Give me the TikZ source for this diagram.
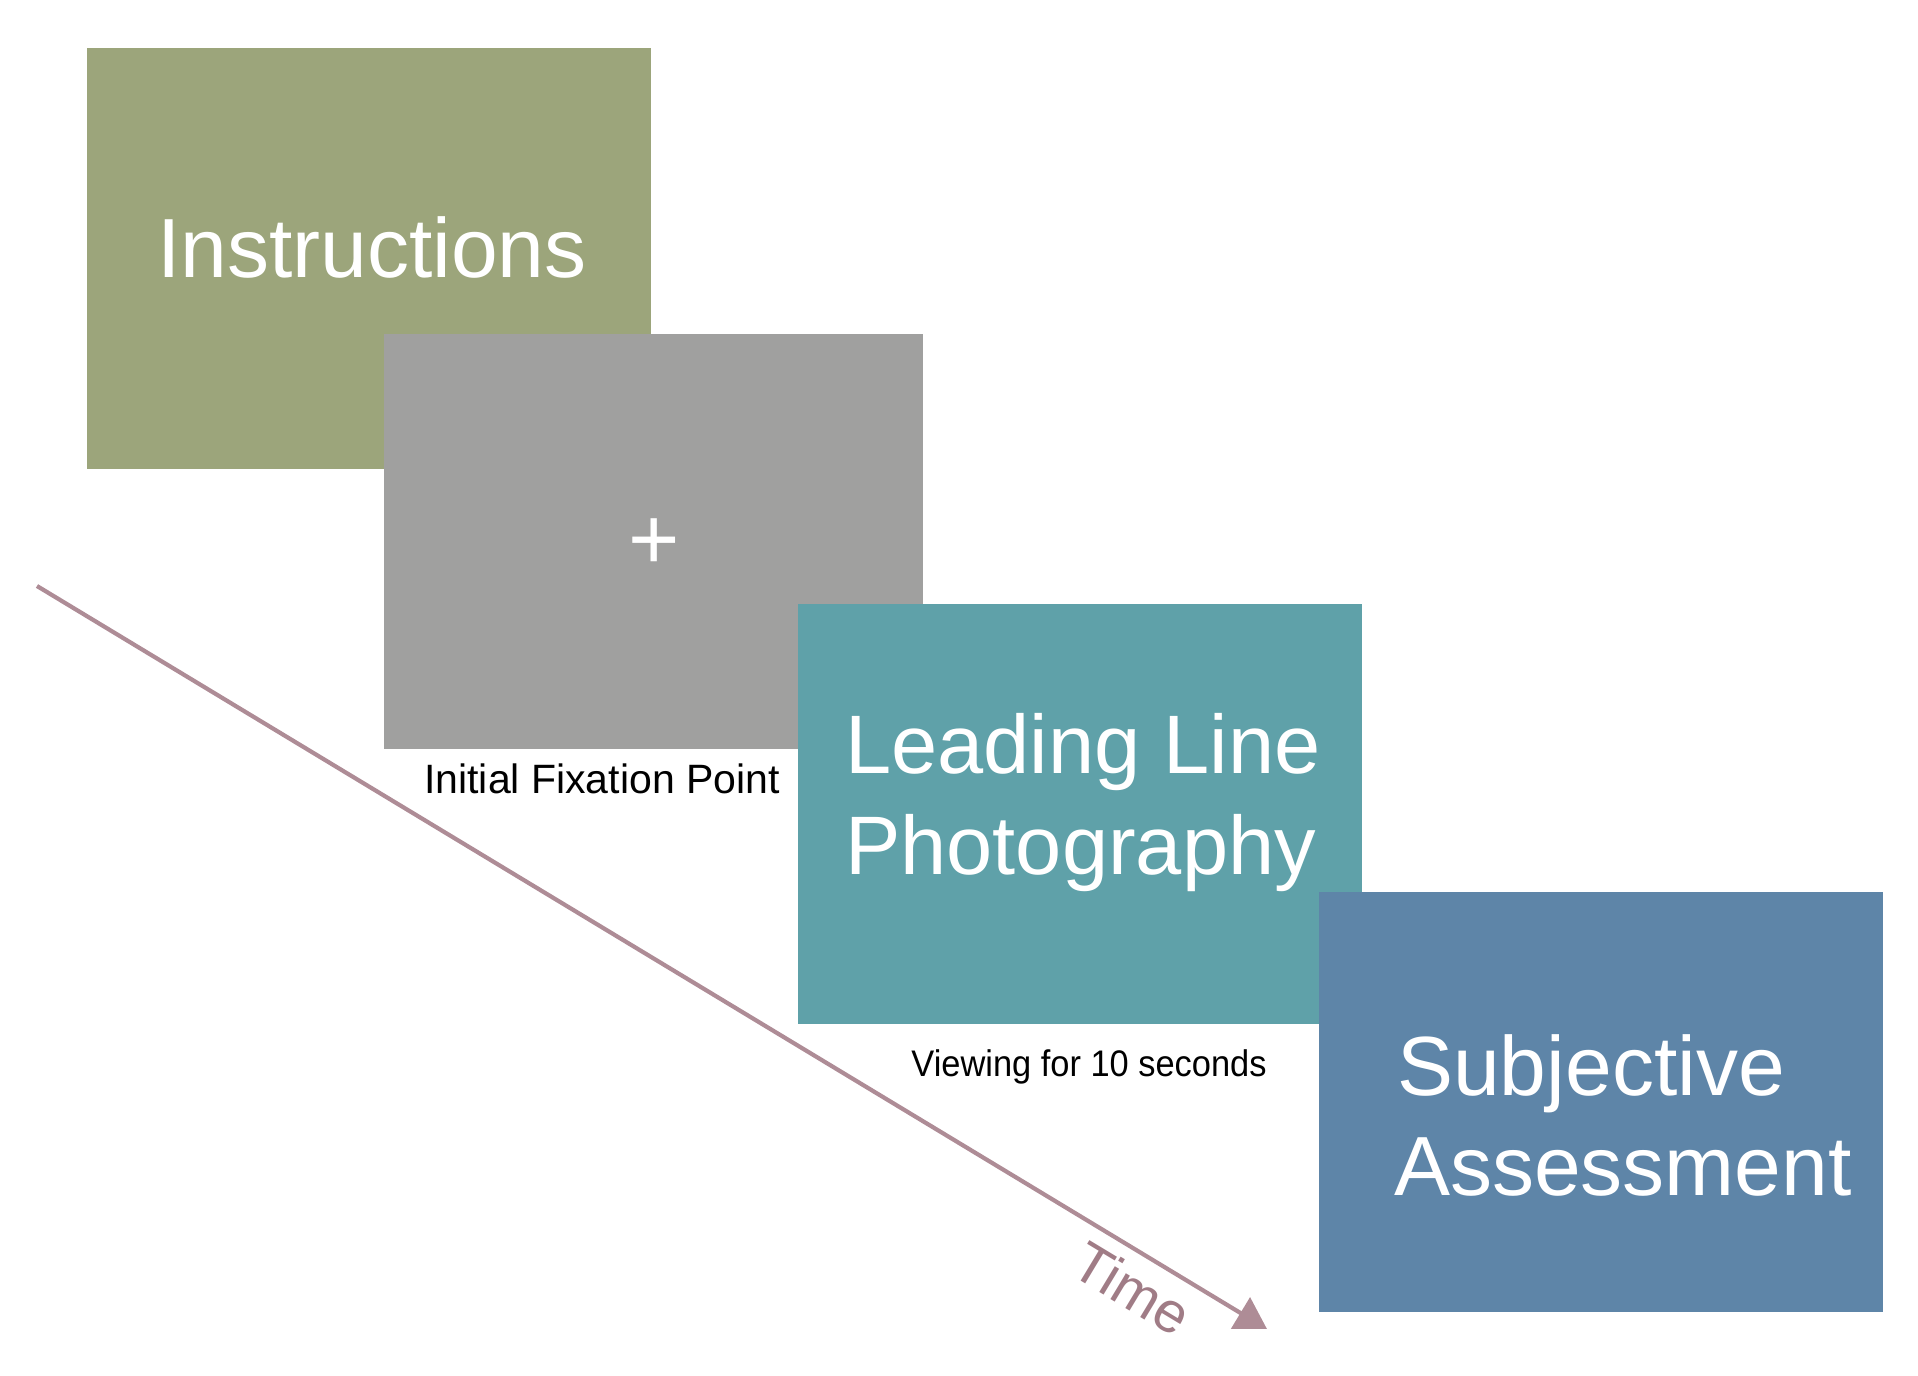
\documentclass[tikz,border=0pt]{standalone}
\usepackage{fontspec}
\setmainfont{Liberation Sans}
\usetikzlibrary{arrows.meta}
\definecolor{cgreen}{HTML}{9CA57B}
\definecolor{cgray}{HTML}{A0A09F}
\definecolor{cteal}{HTML}{5FA1A9}
\definecolor{cblue}{HTML}{5E85A8}
\definecolor{cline}{HTML}{AE8C96}
\definecolor{ctime}{HTML}{A07C86}
\tikzset{
  panel/.style={draw=none, inner sep=0pt, outer sep=0pt},
  bigtext/.style={text=white, inner sep=0pt, anchor=base west, font=\fontsize{84}{101}\selectfont},
  smalltext/.style={text=black, inner sep=0pt, anchor=base},
  timeline/.style={line width=4.2pt, draw=cline, -{Triangle[length=31pt,width=36pt]}},
}
\begin{document}
\begin{tikzpicture}[x=1pt,y=-1pt]
\useasboundingbox (0,0) rectangle (1918,1375);
% panels
\node[panel, fill=cgreen, minimum width=564pt, minimum height=421pt] (instr) at (369,258.5) {};
\node[panel, fill=cgray, minimum width=539pt, minimum height=415pt] (fix) at (653.5,541.5) {};
\node[panel, fill=cteal, minimum width=564pt, minimum height=420pt] (photo) at (1080,814) {};
\node[panel, fill=cblue, minimum width=564pt, minimum height=420pt] (assess) at (1601,1102) {};
% texts
\node[bigtext, font=\fontsize{84}{101}\selectfont] (tinstr) at (157,277) {Instructions};
\node[text=white, inner sep=0pt, anchor=base, font=\fontsize{88}{100}\selectfont] (plus) at (654,569) {+};
\node[smalltext, font=\fontsize{41}{49}\selectfont] (tfix) at (602,793) {Initial Fixation Point};
\node[bigtext, font=\fontsize{83}{100}\selectfont] (tlead1) at (845,773) {Leading Line};
\node[bigtext, font=\fontsize{83}{100}\selectfont] (tlead2) at (845,874) {Photography};
\node[smalltext, font=\fontsize{37}{44}\selectfont, xscale=0.93] (tview) at (1089,1076) {Viewing for 10 seconds};
\node[bigtext, font=\fontsize{84}{101}\selectfont] (tsub1) at (1397,1095) {Subjective};
\node[bigtext, font=\fontsize{84}{101}\selectfont] (tsub2) at (1394,1195) {Assessment};
% time arrow
\coordinate (ts) at (37,586);
\coordinate (te) at (1267,1329);
\draw[timeline] (ts) -- (te);
\node[text=ctime, inner sep=0pt, anchor=base, rotate=-31.1, font=\fontsize{57}{68}\selectfont] (ttime) at (1122,1306) {Time};
\end{tikzpicture}
\end{document}
